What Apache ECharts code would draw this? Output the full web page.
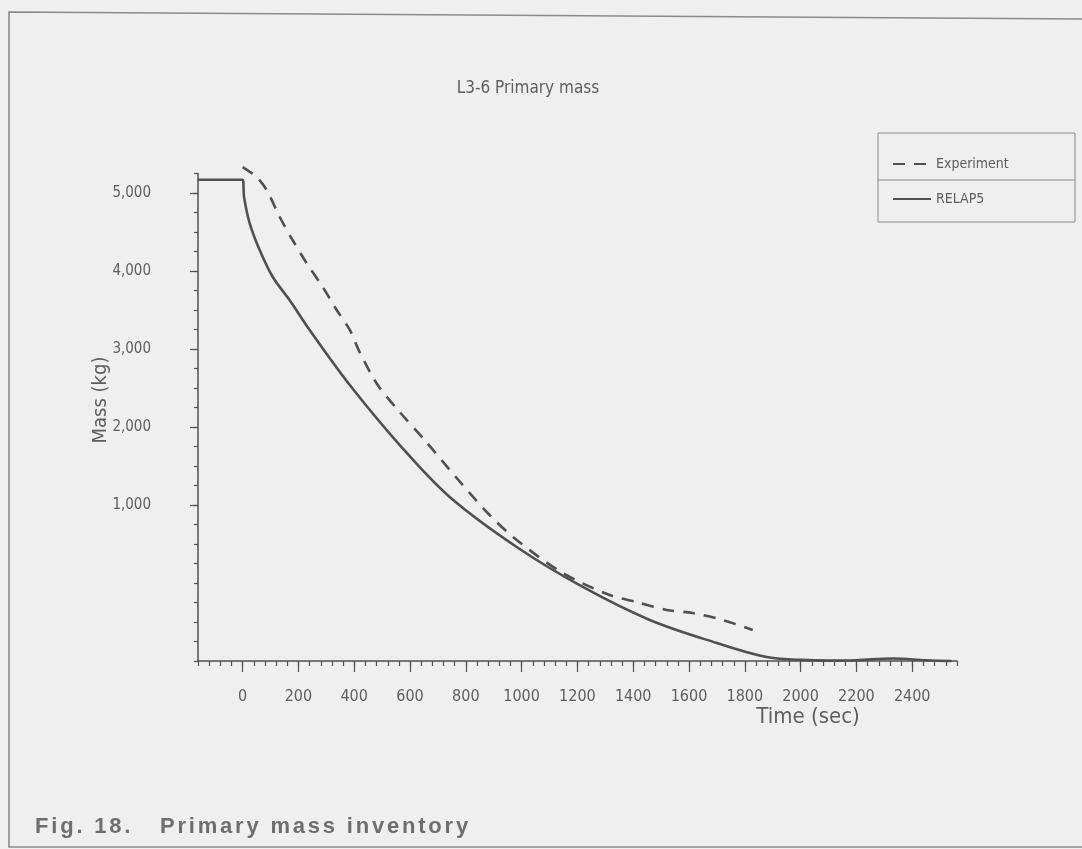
<!DOCTYPE html>
<html>
<head>
<meta charset="utf-8">
<script src="https://cdn.jsdelivr.net/npm/echarts@6/dist/echarts.min.js"></script>
<style>
html,body{margin:0;padding:0;background:#efefef;}
#chart{width:1082px;height:849px;position:absolute;left:0;top:0;}
#cap{position:absolute;left:35px;top:813px;font:bold 22px "Liberation Sans",Arial,sans-serif;letter-spacing:2.8px;color:#6e6e6e;white-space:pre;}
</style>
</head>
<body>
<div id="chart"></div>
<div id="cap">Fig. 18.   Primary mass inventory</div>
<script>
// ---- data ----
const relapTime = [-160, 0, 5, 25, 61, 108, 168, 240, 384, 563, 742, 982, 1219, 1459, 1699, 1878, 2000, 2100, 2200, 2330, 2450, 2540];
const relapMass = [5170, 5170, 4950, 4615, 4269, 3923, 3628, 3244, 2538, 1769, 1103, 462, -51, -474, -769, -950, -985, -995, -990, -968, -990, -1000];
const expTime = [0, 50, 86, 133, 179, 229, 287, 337, 384, 419, 484, 563, 652, 767, 885, 982, 1147, 1315, 1412, 1520, 1613, 1720, 1828];
const expMass = [5333, 5205, 5038, 4692, 4397, 4103, 3795, 3500, 3244, 2962, 2538, 2192, 1833, 1346, 872, 551, 128, -154, -244, -346, -385, -474, -603];
const xTickLabels = [0, 200, 400, 600, 800, 1000, 1200, 1400, 1600, 1800, 2000, 2200, 2400];
const yTickLabels = ['1,000', '2,000', '3,000', '4,000', '5,000'];
const seriesNames = ['Experiment', 'RELAP5'];
const titleText = 'L3-6 Primary mass';

const relapData = relapTime.map((t, i) => [t, relapMass[i]]);
const expData = expTime.map((t, i) => [t, expMass[i]]);

const NARROW = '"Liberation Sans Narrow","DejaVu Sans Condensed","Roboto Condensed",sans-serif';
const ink = '#505050';
const txt = '#5e5e5e';

const chart = echarts.init(document.getElementById('chart'), null, {renderer: 'canvas'});
const option = {
  backgroundColor: '#efefef',
  animation: false,
  title: {
    text: titleText, left: 523, top: 75, textAlign: 'center',
    textStyle: {fontFamily: NARROW, fontSize: 17, fontWeight: 'normal', color: txt}
  },
  legend: {
    orient: 'vertical', left: 887, top: 152, itemGap: 21, itemWidth: 38, itemHeight: 14,
    data: seriesNames,
    itemStyle: {opacity: 0},
    textStyle: {fontFamily: NARROW, fontSize: 14, color: txt}
  },
  grid: [
    {left: 198, top: 173.5, width: 759, height: 487.5, containLabel: false},
    {left: 242.6, top: 193, width: 669.6, height: 312, containLabel: false}
  ],
  xAxis: [
    {gridIndex: 0, type: 'value', min: -160, max: 2560, interval: 40,
     axisLine: {show: true, onZero: false, lineStyle: {color: ink, width: 1.5}},
     axisTick: {show: true, length: 5, lineStyle: {color: ink, width: 1.2}},
     axisLabel: {show: false}, splitLine: {show: false}},
    {gridIndex: 1, type: 'value', min: 0, max: 2400, interval: 200, position: 'bottom', offset: 156,
     axisLine: {show: false, onZero: false},
     axisTick: {show: true, length: 11, lineStyle: {color: ink, width: 1.2}},
     axisLabel: {show: true, margin: 28, fontFamily: NARROW, fontSize: 16, color: txt,
       formatter: v => (xTickLabels.indexOf(v) >= 0 ? String(v) : '')},
     splitLine: {show: false}}
  ],
  yAxis: [
    {gridIndex: 0, type: 'value', min: -1000, max: 5250, interval: 250,
     axisLine: {show: true, onZero: false, lineStyle: {color: ink, width: 1.5}},
     axisTick: {show: true, length: 4, lineStyle: {color: ink, width: 1.2}},
     axisLabel: {show: false}, splitLine: {show: false}},
    {gridIndex: 1, type: 'value', min: 1000, max: 5000, interval: 1000, position: 'left', offset: 44.6,
     axisLine: {show: false, onZero: false},
     axisTick: {show: true, length: 8, lineStyle: {color: ink, width: 1.2}},
     axisLabel: {show: true, margin: 47, fontFamily: NARROW, fontSize: 15, color: txt,
       formatter: v => yTickLabels[Math.round(v / 1000) - 1] || ''},
     splitLine: {show: false}}
  ],
  series: [
    {name: seriesNames[0], type: 'line', xAxisIndex: 0, yAxisIndex: 0, data: expData,
     showSymbol: false, symbol: 'none', smooth: 0.3, clip: false,
     lineStyle: {color: ink, width: 2.6, type: [12, 9]}, itemStyle: {color: ink}},
    {name: seriesNames[1], type: 'line', xAxisIndex: 0, yAxisIndex: 0, data: relapData,
     showSymbol: false, symbol: 'none', smooth: 0.35, clip: false,
     lineStyle: {color: ink, width: 2.6, type: 'solid'}, itemStyle: {color: ink}}
  ],
  graphic: [
    {type: 'polyline', shape: {points: [[1082, 19], [9, 12], [9, 847], [1082, 847]]},
     style: {stroke: '#8a8a8a', lineWidth: 1.6, fill: null}},
    {type: 'rect', shape: {x: 878, y: 133, width: 197, height: 89},
     style: {stroke: '#8a8a8a', lineWidth: 1, fill: null}},
    {type: 'line', shape: {x1: 878, y1: 180, x2: 1075, y2: 180},
     style: {stroke: '#8a8a8a', lineWidth: 1}},
    {type: 'text', x: 808, y: 717,
     style: {text: 'Time (sec)', fontFamily: NARROW, fontSize: 22, fill: txt, align: 'center', verticalAlign: 'middle'}},
    {type: 'text', x: 101, y: 400, rotation: Math.PI / 2,
     style: {text: 'Mass (kg)', fontFamily: NARROW, fontSize: 20, fill: txt, align: 'center', verticalAlign: 'middle'}}
  ]
};
chart.setOption(option);
</script>
</body>
</html>
